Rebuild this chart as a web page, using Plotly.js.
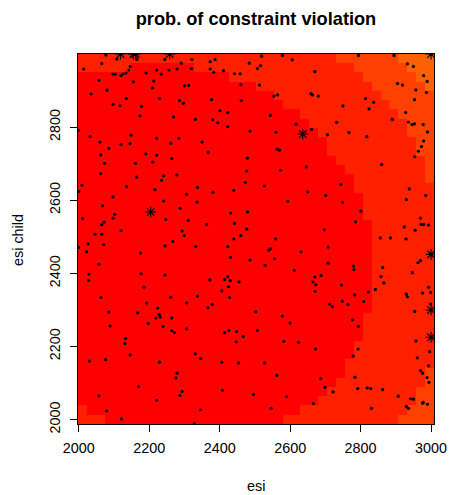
<!DOCTYPE html>
<html><head><meta charset="utf-8">
<script src="https://cdn.plot.ly/plotly-3.0.1.min.js"></script>
<style>html,body{margin:0;padding:0;background:#fff}#chart{width:449px;height:495px}</style>
</head><body><div id="chart"></div>
<script>
// grid cell centres (esi, esi child)
const gridX = [2010.3,2035.6,2060.8,2086.1,2111.4,2136.7,2161.9,2187.2,2212.5,2237.7,
  2263.0,2288.3,2313.5,2338.8,2364.1,2389.4,2414.6,2439.9,2465.2,2490.4,
  2515.7,2541.0,2566.2,2591.5,2616.8,2642.1,2667.3,2692.6,2717.9,2743.1,
  2768.4,2793.7,2818.9,2844.2,2869.5,2894.8,2920.0,2945.3,2970.6,2995.8];
const gridY = [2000.7,2026.0,2051.3,2076.6,2101.9,2127.2,2152.5,2177.8,2203.1,2228.4,
  2253.7,2279.0,2304.3,2329.6,2354.9,2380.2,2405.5,2430.8,2456.1,2481.4,
  2506.7,2532.0,2557.3,2582.6,2607.9,2633.2,2658.5,2683.8,2709.1,2734.4,
  2759.7,2785.0,2810.3,2835.6,2860.9,2886.2,2911.5,2936.8,2962.1,2987.4];
// probability class per cell, run-length per row, top row first: [class, count, ...]
const levelRuns = [
  [1,29,2,7,3,4],
  [1,6,0,7,1,18,2,6,3,3],
  [0,17,1,15,2,6,3,2],
  [0,20,1,13,2,6,3,1],
  [0,22,1,12,2,6],
  [0,23,1,12,2,5],
  [0,25,1,11,2,4],
  [0,26,1,11,2,3],
  [0,27,1,10,2,3],
  [0,28,1,10,2,2],
  [0,28,1,10,2,2],
  [0,29,1,10,2,1],
  [0,30,1,9,2,1],
  [0,31,1,8,2,1],
  [0,31,1,9],
  [0,32,1,8],[0,32,1,8],[0,32,1,8],
  [0,33,1,7],[0,33,1,7],[0,33,1,7],[0,33,1,7],[0,33,1,7],
  [0,33,1,7],[0,33,1,7],[0,33,1,7],[0,33,1,7],[0,33,1,7],
  [0,32,1,8],[0,32,1,8],[0,32,1,8],
  [0,31,1,9],[0,31,1,9],
  [0,30,1,10],
  [0,30,1,9,2,1],
  [0,29,1,10,2,1],
  [0,28,1,10,2,2],
  [0,27,1,11,2,2],
  [1,1,0,24,1,12,2,3],
  [1,3,0,20,1,13,2,4]
];
const classColors = ['#FF0000','#FF2000','#FF4000','#FF6000'];

// evaluated design points
const dots = [
[2077,2997],[2065,2974],[2108,2986],[2165,2985],[2244,2985],[2291,2975],[2321,2985],[2373,2979],[2387,2985],[2484,2975],
[2507,2960],[2014,2959],[2097,2945],[2104,2945],[2120,2941],[2126,2946],[2134,2948],[2142,2956],[2146,2966],[2191,2948],
[2221,2956],[2234,2945],[2256,2956],[2279,2959],[2320,2960],[2373,2959],[2383,2950],[2411,2954],[2442,2946],[2458,2946],
[2057,2928],[2155,2924],[2213,2926],[2300,2913],[2312,2914],[2460,2916],[2080,2901],[2209,2907],[2035,2891],[2135,2878],
[2229,2878],[2286,2873],[2297,2865],[2377,2875],[2461,2873],[2097,2862],[2117,2859],[2178,2857],[2401,2845],[2423,2840],
[2174,2831],[2269,2828],[2331,2821],[2380,2820],[2394,2812],[2423,2801],[1999,2791],[2486,2789],[2032,2774],[2148,2778],
[2221,2769],[2284,2769],[2060,2759],[2120,2753],[2145,2755],[2261,2756],[2350,2759],[2085,2742],[2062,2724],[2190,2727],
[2221,2723],[2264,2714],[2367,2731],[2479,2715],[2073,2701],[2161,2701],[2210,2704],[2062,2673],[2241,2667],[2278,2669],
[2164,2663],[2477,2680],[2009,2641],[2136,2637],[2235,2655],[2337,2635],[2473,2649],[2000,2624],[2216,2629],[2381,2622],
[2440,2627],[2306,2616],[2097,2609],[2241,2598],[2336,2595],[2068,2585],[2288,2578],[2431,2565],[2479,2568],[2102,2562],
[2011,2550],[2097,2551],[2072,2540],[2065,2533],[2247,2547],[2311,2545],[2363,2534],[2442,2537],[2477,2521],[2120,2517],
[2293,2516],[2046,2507],[2065,2507],[2299,2503],[2460,2503],[2440,2494],
[2519,2994],[2578,2996],[2606,2984],[2794,2996],[2895,2996],[2516,2968],[2670,2952],[2933,2973],[2950,2966],[2513,2915],
[2979,2941],[2989,2925],[2905,2919],[2919,2915],[2554,2885],[2564,2888],[2659,2892],[2663,2888],[2680,2885],[2957,2902],
[2987,2895],[2814,2878],[2837,2868],[2953,2875],[2750,2858],[2824,2850],[2928,2840],[2544,2832],[2890,2821],[2936,2814],
[2946,2807],[2953,2809],[2978,2807],[2617,2808],[2732,2813],[2661,2794],[2767,2785],[2706,2779],[2818,2774],[2990,2787],
[2560,2786],[2979,2762],[2973,2747],[2964,2734],[2563,2740],[2570,2737],[2954,2719],[2646,2691],[2573,2682],[2860,2698],
[2527,2639],[2744,2643],[2938,2631],[2650,2623],[2701,2613],[2985,2613],[2930,2602],[2593,2597],[2749,2594],[2801,2570],
[2970,2551],[2786,2541],[2924,2527],[2972,2534],[2979,2534],[2993,2532],[2955,2518],[2697,2519],[2559,2494],[2856,2497],
[2885,2497],[2929,2494],
[2026,2480],[2071,2479],[1999,2471],[2022,2459],[2175,2456],[2245,2475],[2267,2487],[2332,2474],[2423,2473],[2431,2444],
[2486,2436],[2057,2425],[2029,2398],[2028,2381],[2177,2399],[2245,2395],[2185,2362],[2372,2382],[2414,2383],[2423,2391],
[2430,2380],[2455,2377],[2425,2364],[2406,2352],[2428,2334],[2063,2334],[2261,2335],[2337,2338],[2193,2319],[2306,2319],
[2366,2306],[2379,2315],[2085,2294],[2167,2292],[2224,2305],[2228,2288],[2231,2281],[2219,2278],[2264,2278],[2502,2295],
[2089,2256],[2197,2263],[2239,2255],[2264,2243],[2272,2238],[2306,2248],[2414,2238],[2426,2244],[2448,2241],[2467,2227],
[2447,2213],[2507,2244],[2133,2222],[2131,2208],[2146,2177],[2331,2180],[2346,2167],[2030,2160],[2076,2164],[2229,2157],
[2406,2157],[2454,2155],[2279,2127],[2275,2114],[2170,2090],[2408,2080],[2496,2069],[2293,2077],[2287,2066],[2057,2065],
[2221,2053],[2079,2024],[2346,2027],[2121,2002],[2328,1989],
[2539,2463],[2544,2467],[2631,2459],[2708,2472],[2556,2440],[2529,2422],[2612,2408],[2708,2428],[2780,2420],[2781,2410],
[2863,2416],[2970,2435],[2963,2429],[2947,2402],[2670,2390],[2688,2394],[2858,2391],[2866,2374],[2665,2377],[2673,2369],
[2671,2351],[2746,2368],[2783,2341],[2822,2349],[2842,2356],[2930,2343],[2933,2336],[2976,2346],[2993,2362],[2999,2348],
[2999,2316],[2712,2316],[2720,2309],[2748,2324],[2764,2315],[2809,2323],[2954,2296],[2578,2283],[2777,2273],[2600,2264],
[2794,2255],[2582,2214],[2624,2211],[2672,2193],[2793,2193],[2957,2215],[2996,2186],[2779,2174],[2961,2169],[2528,2155],
[2993,2147],[2970,2134],[2976,2127],[2562,2121],[2989,2115],[2994,2102],[2687,2112],[2699,2088],[2784,2116],[2792,2085],
[2819,2087],[2829,2085],[2863,2082],[2722,2076],[2907,2064],[2942,2057],[2950,2056],[2590,2063],[2666,2044],[2930,2036],
[2936,2031],[2976,2045],[2978,2047],[2990,2042],[2546,2031],[2831,2031]
];
const dotX = dots.map(d => d[0]);
const dotY = dots.map(d => d[1]);

// highlighted points (asterisks)
const starX = [2118, 2155, 2161, 2258, 3000, 2204, 2636, 3000, 3000, 3000];
const starY = [3000, 3000, 3000, 3000, 3000, 2568, 2781, 2452, 2300, 2225];

const xTicks = [2000, 2200, 2400, 2600, 2800, 3000];
const yTicks = [2000, 2200, 2400, 2600, 2800];

// expand runs into matrix (rows bottom-to-top to match gridY)
const zTop = levelRuns.map(r => {
  const row = [];
  for (let k = 0; k < r.length; k += 2) for (let n = 0; n < r[k+1]; n++) row.push(r[k]);
  return row;
});
const z = zTop.slice().reverse();

const nC = classColors.length;
const cs = [];
classColors.forEach((c, i) => { cs.push([i / nC, c]); cs.push([(i + 1) / nC, c]); });

const FONT = 'Liberation Sans, Arial, Helvetica, sans-serif';

const traces = [
  {type: 'heatmap', x: gridX, y: gridY, z: z, zmin: -0.5, zmax: nC - 0.5,
   colorscale: cs, showscale: false, zsmooth: false, hoverinfo: 'skip'},
  {type: 'scatter', mode: 'markers', x: dotX, y: dotY,
   marker: {symbol: 'circle', size: 3.2, color: '#000'}, hoverinfo: 'skip'},
  {type: 'scatter', mode: 'markers', x: starX, y: starY,
   marker: {symbol: 'asterisk-open', size: 9, color: '#000', line: {color: '#000', width: 1.1}}, hoverinfo: 'skip'}
];

const layout = {
  width: 449, height: 495,
  margin: {l: 78, r: 15, t: 54, b: 71, pad: 0},
  paper_bgcolor: '#fff', plot_bgcolor: '#fff',
  showlegend: false,
  font: {family: FONT, color: '#000', size: 14.4},
  title: {text: '<b>prob. of constraint violation</b>', font: {family: FONT, size: 18.2, color: '#000'},
          x: 0.5, xref: 'paper', xanchor: 'center', y: 1 - 19 / 495, yref: 'container', yanchor: 'middle'},
  xaxis: {range: [1997.7, 3008.5], tickvals: xTicks, ticktext: xTicks.map(String),
          ticks: 'outside', ticklen: 7, tickwidth: 1, tickcolor: '#000',
          showline: true, mirror: true, linecolor: '#000', linewidth: 1,
          showgrid: false, zeroline: false, tickfont: {family: FONT, size: 14.4, color: '#000'},
          ticklabelstandoff: 4, fixedrange: true},
  yaxis: {range: [1988, 3000], tickvals: yTicks, ticktext: yTicks.map(String),
          ticks: 'outside', ticklen: 7, tickwidth: 1, tickcolor: '#000', tickangle: -90,
          showline: true, mirror: true, linecolor: '#000', linewidth: 1,
          showgrid: false, zeroline: false, tickfont: {family: FONT, size: 14.4, color: '#000'},
          ticklabelstandoff: 4, fixedrange: true},
  annotations: [
    {text: 'esi', xref: 'paper', yref: 'paper', x: 0.5, y: -(486 - 424) / 370,
     xanchor: 'center', yanchor: 'middle', showarrow: false, font: {family: FONT, size: 14.4, color: '#000'}},
    {text: 'esi child', xref: 'paper', yref: 'paper', x: -(78 - 18) / 356, y: (424 - 240) / 370,
     xanchor: 'center', yanchor: 'middle', textangle: -90, showarrow: false, font: {family: FONT, size: 14.4, color: '#000'}}
  ]
};

Plotly.newPlot('chart', traces, layout, {staticPlot: true, displayModeBar: false});
</script>
</body></html>
